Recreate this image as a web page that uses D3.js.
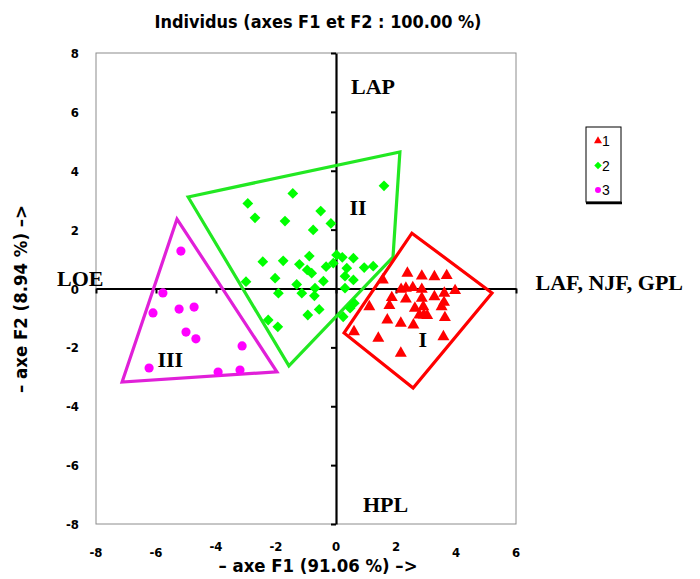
<!DOCTYPE html>
<html lang="fr">
<head>
<meta charset="UTF-8">
<script src="https://cdnjs.cloudflare.com/ajax/libs/d3/7.8.5/d3.min.js"></script>
<title>Individus</title>
<style>
  body { margin: 0; background: #fff; }
  .ttl { font-family: "DejaVu Sans Condensed", "Liberation Sans Narrow", Arial, sans-serif; font-weight: bold; }
  .tick-lbl { font-family: "DejaVu Sans Condensed", "Liberation Sans Narrow", Arial, sans-serif; font-weight: bold; font-size: 13px; }
  .zone { font-family: "Liberation Serif", "Times New Roman", serif; font-weight: bold; font-size: 22px; }
  .leg { font-family: "Liberation Sans", Arial, sans-serif; font-size: 14px; }
</style>
</head>
<body>
<div id="plot"></div>
<script>
// values (F1, F2)
var pts1 = [[2.38,0.52],[2.86,0.42],[3.28,0.40],[3.69,0.44],[1.56,0.29],[2.17,-0.03],[2.33,0.01],[2.56,0.03],
  [2.86,-0.03],[3.97,-0.07],[3.61,-0.16],[1.86,-0.31],[2.33,-0.36],[2.86,-0.33],[3.28,-0.28],[3.60,-0.47],
  [1.78,-0.58],[2.63,-0.67],[2.91,-0.62],[3.52,-0.62],[1.11,-0.62],[2.93,-0.90],[2.78,-0.90],[3.04,-0.92],
  [3.63,-0.99],[1.71,-1.07],[2.16,-1.18],[2.58,-1.24],[0.60,-1.47],[1.41,-1.69],[3.58,-1.64],[2.16,-2.20]];
var pts2 = [[-2.94,2.89],[-2.70,2.40],[-2.44,0.91],[-3.00,0.23],[-1.44,3.23],[1.60,3.49],[-0.51,2.63],[-1.70,2.29],
  [-0.76,1.99],[-0.17,2.21],[-0.89,1.10],[-1.76,0.94],[-1.22,0.82],[0.02,1.14],[0.21,1.06],[0.58,1.03],
  [-0.33,0.74],[-0.09,0.86],[-0.96,0.63],[-0.81,0.52],[0.94,0.71],[1.24,0.76],[0.36,0.69],[0.30,0.42],
  [-0.42,0.25],[0.58,0.29],[-2.03,0.35],[-1.31,0.14],[-1.92,-0.16],[-1.14,-0.16],[-0.70,0.01],[-0.72,-0.25],
  [0.30,0.01],[0.61,-0.50],[0.47,-0.67],[-0.56,-0.71],[-0.94,-0.90],[-2.26,-1.07],[-1.94,-1.30],[0.24,-0.96]];
var pts3 = [[-5.17,1.27],[-5.77,-0.15],[-6.10,-0.83],[-5.23,-0.70],[-4.73,-0.63],[-5.00,-1.48],[-4.67,-1.71],
  [-3.13,-1.95],[-6.23,-2.70],[-3.93,-2.84],[-3.20,-2.77]];

// group outlines
var hull1 = [[2.53,1.88],[5.20,-0.15],[2.57,-3.38],[0.27,-1.51]];
var hull2 = [[-4.93,3.11],[2.13,4.64],[1.90,1.07],[-1.57,-2.63]];
var hull3 = [[-5.30,2.36],[-7.13,-3.18],[-1.97,-2.83]];

var zoneLabels = [["LAP",0.5,6.6],["II",0.45,2.5],["LOE",-9.3,0.1],["LAF, NJF, GPL",6.65,-0.05],
  ["I",2.75,-2.0],["III",-5.95,-2.65],["HPL",0.9,-7.6]];
var xTicks = [-8,-6,-4,-2,0,2,4,6];
var xRaised = [-4,-2,0,2];   // these labels sit a little higher in the picture
var yTicks = [-8,-6,-4,-2,0,2,4,6,8];
var legendNames = ["1","2","3"];

var W = 700, H = 579;
var svg = d3.select("#plot").append("svg").attr("width", W).attr("height", H);

var x = d3.scaleLinear().domain([-8, 6]).range([96, 516]);
var y = d3.scaleLinear().domain([-8, 8]).range([524, 53]);

// plot frame
svg.append("rect")
  .attr("x", x(-8)).attr("y", y(8))
  .attr("width", x(6) - x(-8)).attr("height", y(-8) - y(8))
  .attr("fill", "none").attr("stroke", "#8c8c8c").attr("stroke-width", 1);

// axes through the origin
var gx = svg.append("g").attr("transform", "translate(0," + y(0) + ")")
  .call(d3.axisBottom(x).tickValues(xTicks).tickFormat("").tickSize(5).tickSizeOuter(0));
var gy = svg.append("g").attr("transform", "translate(" + x(0) + ",0)")
  .call(d3.axisLeft(y).tickValues(yTicks).tickFormat("").tickSize(5).tickSizeOuter(0));
[gx, gy].forEach(function (g) {
  g.select(".domain").attr("stroke", "#000").attr("stroke-width", 2.2);
  g.selectAll(".tick line").attr("stroke", "#000").attr("stroke-width", 2);
});

// tick labels on the frame
svg.append("g").selectAll("text").data(xTicks).enter().append("text")
  .attr("class", "tick-lbl").attr("x", d => x(d))
  .attr("y", d => xRaised.indexOf(d) >= 0 ? 551 : 557)
  .attr("text-anchor", "middle").text(d => d);
svg.append("g").selectAll("text").data(yTicks).enter().append("text")
  .attr("class", "tick-lbl").attr("x", 79).attr("y", d => y(d) + 5)
  .attr("text-anchor", "end").text(d => d);

// outlines
var line = d3.line().x(d => x(d[0])).y(d => y(d[1])).curve(d3.curveLinearClosed);
[[hull2, "#22e822"], [hull3, "#e020d8"], [hull1, "#ff0000"]].forEach(function (h) {
  svg.append("path").attr("d", line(h[0])).attr("fill", "none")
    .attr("stroke", h[1]).attr("stroke-width", 3.2).attr("stroke-linejoin", "miter");
});

// points
var tri = d3.symbol().type(d3.symbolTriangle).size(62);
var sq = d3.symbol().type(d3.symbolSquare).size(58);
var circ = d3.symbol().type(d3.symbolCircle).size(66);

svg.append("g").selectAll("path").data(pts2).enter().append("path")
  .attr("d", sq).attr("fill", "#00ff00")
  .attr("transform", d => "translate(" + x(d[0]) + "," + y(d[1]) + ") rotate(45)");
svg.append("g").selectAll("path").data(pts3).enter().append("path")
  .attr("d", circ).attr("fill", "#ff00ff")
  .attr("transform", d => "translate(" + x(d[0]) + "," + y(d[1]) + ")");
svg.append("g").selectAll("path").data(pts1).enter().append("path")
  .attr("d", tri).attr("fill", "#ff0000")
  .attr("transform", d => "translate(" + x(d[0]) + "," + y(d[1]) + ")");

// zone labels
svg.append("g").selectAll("text").data(zoneLabels).enter().append("text")
  .attr("class", "zone").attr("x", d => x(d[1])).attr("y", d => y(d[2]))
  .text(d => d[0]);

// titles
svg.append("text").attr("class", "ttl").attr("x", 318).attr("y", 28)
  .attr("text-anchor", "middle").style("font-size", "18px")
  .attr("textLength", 327).attr("lengthAdjust", "spacingAndGlyphs")
  .text("Individus (axes F1 et F2 : 100.00 %)");
svg.append("text").attr("class", "ttl").attr("x", 318).attr("y", 572)
  .attr("text-anchor", "middle").style("font-size", "18px")
  .attr("textLength", 199).attr("lengthAdjust", "spacingAndGlyphs")
  .text("\u2013 axe F1 (91.06 %) \u2013>");
svg.append("text").attr("class", "ttl")
  .attr("transform", "translate(27,299) rotate(-90)")
  .attr("text-anchor", "middle").style("font-size", "18px")
  .attr("textLength", 188).attr("lengthAdjust", "spacingAndGlyphs")
  .text("\u2013 axe F2 (8.94 %) \u2013>");

// legend
var leg = svg.append("g").attr("transform", "translate(586,127)");
leg.append("rect").attr("width", 35).attr("height", 75)
  .attr("fill", "#fff").attr("stroke", "#000").attr("stroke-width", 1);
leg.append("line").attr("x1", 0).attr("x2", 36).attr("y1", 76).attr("y2", 76)
  .attr("stroke", "#000").attr("stroke-width", 2.5);
var legSym = [[d3.symbolTriangle, "#ff0000", 0], [d3.symbolSquare, "#00ff00", 45], [d3.symbolCircle, "#ff00ff", 0]];
legendNames.forEach(function (n, i) {
  var cy = 14 + i * 24.5;
  leg.append("path").attr("d", d3.symbol().type(legSym[i][0]).size(28)())
    .attr("fill", legSym[i][1])
    .attr("transform", "translate(12," + cy + ") rotate(" + legSym[i][2] + ")");
  leg.append("text").attr("class", "leg").attr("x", 16).attr("y", cy + 5).text(n);
});
</script>
</body>
</html>
